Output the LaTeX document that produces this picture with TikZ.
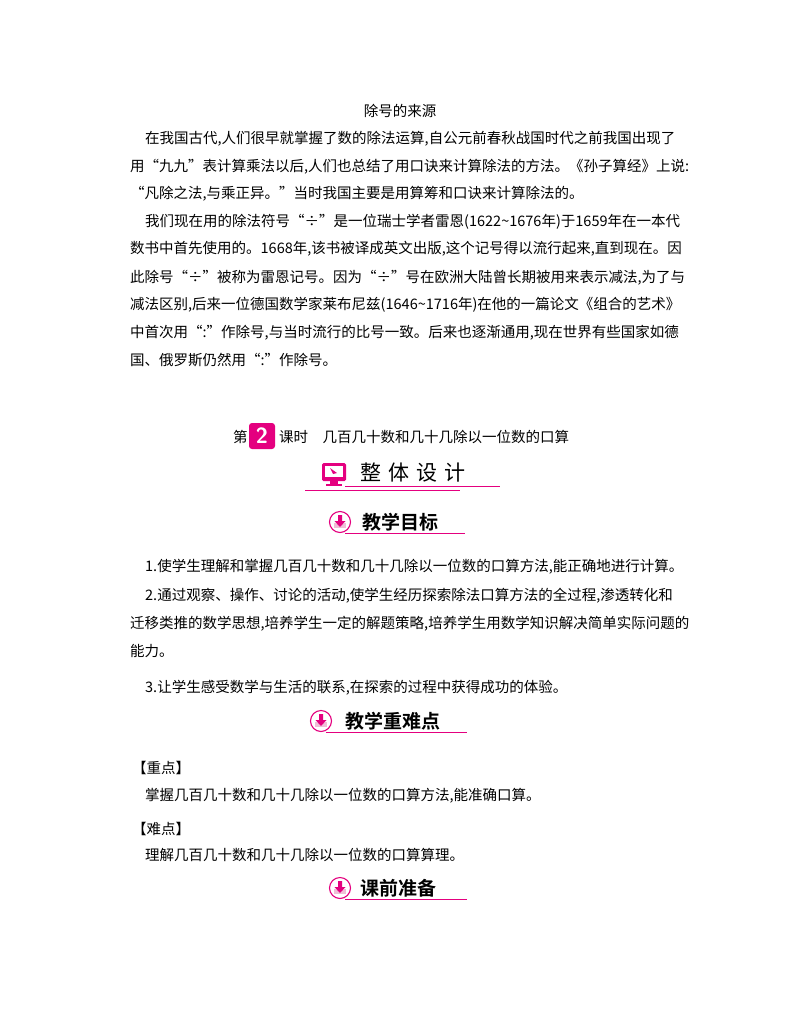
\documentclass[tikz,border=0pt]{standalone}
\usepackage{fontspec}
\setmainfont{Noto Sans CJK SC}
\newfontfamily\cjkb[BoldFont={Noto Sans CJK SC Bold}]{Noto Sans CJK SC}
\definecolor{pk}{RGB}{228,0,127}
\definecolor{pkl}{RGB}{240,190,215}
\begin{document}
\begin{tikzpicture}[x=1pt,y=-1pt,
  ln/.style={anchor=west,inner sep=0pt,font=\fontsize{14.5}{16}\selectfont},
  hd/.style={anchor=west,inner sep=0pt,font=\fontsize{19}{22}\selectfont},
  icn/.style={circle,draw=pk,line width=1.1pt,minimum size=21pt,inner sep=0pt}]
\useasboundingbox (0,0) rectangle (800,1028);
\fill[white] (0,0) rectangle (800,1028);
\node[inner sep=0pt,font=\fontsize{14.5}{16}\selectfont] (t) at (400,111) {除号的来源};
\node[ln] (a1) at (145,139) {在我国古代,人们很早就掌握了数的除法运算,自公元前春秋战国时代之前我国出现了};
\node[ln] (a2) at (130,167) {用“九九”表计算乘法以后,人们也总结了用口诀来计算除法的方法。《孙子算经》上说:};
\node[ln] (a3) at (130,194) {“凡除之法,与乘正异。”当时我国主要是用算筹和口诀来计算除法的。};
\node[ln] (b1) at (145,222) {我们现在用的除法符号“÷”是一位瑞士学者雷恩(1622\char"7E 1676年)于1659年在一本代};
\node[ln] (b2) at (130,249) {数书中首先使用的。1668年,该书被译成英文出版,这个记号得以流行起来,直到现在。因};
\node[ln] (b3) at (130,278) {此除号“÷”被称为雷恩记号。因为“÷”号在欧洲大陆曾长期被用来表示减法,为了与};
\node[ln] (b4) at (130,305) {减法区别,后来一位德国数学家莱布尼兹(1646\char"7E 1716年)在他的一篇论文《组合的艺术》};
\node[ln] (b5) at (130,333) {中首次用“:”作除号,与当时流行的比号一致。后来也逐渐通用,现在世界有些国家如德};
\node[ln] (b6) at (130,360) {国、俄罗斯仍然用“:”作除号。};
% lesson title
\node[ln] (k1) at (233,437) {第};
\node[fill=pk,rounded corners=3pt,minimum width=26pt,minimum height=26pt,inner sep=0pt,text=white,font=\sffamily\bfseries\fontsize{22}{22}\selectfont] (k2) at (262,436) {2};
\node[ln] (k3) at (279,437) {课时\quad 几百几十数和几十几除以一位数的口算};
% 整体设计
\draw[pk,line width=0.8pt] (305,490) -- (460,490);
\draw[pk,line width=0.8pt] (345,486) -- (500,486);
\fill[pk,rounded corners=1.5pt] (322,463) rectangle (346,481);
\fill[white] (325,466) rectangle (343,477);
\fill[pk] (330,468) -- (337,473) -- (333,474) -- cycle;
\fill[pk] (330,481) rectangle (338,484);
\fill[pk] (326,484) rectangle (342,486);
\node[hd,font=\fontsize{21}{22}\selectfont] (zt) at (360,473) {整\,\,体\,\,设\,\,计};
% headers
\foreach \n/\x/\y/\tx/\txt/\ul in {g1/340/522/362/教学目标/465, g2/321/721/345/教学重难点/467, g3/340/888/360/课前准备/467}{
  \draw[pk,line width=0.8pt] (\x+5,\y+11) -- (\ul,\y+11);
  \node[icn] (\n) at (\x,\y) {};
  \fill[pkl] (\x-6,\y+1) rectangle (\x+6,\y+6);
  \fill[pk] (\x-2,\y-7) rectangle (\x+2,\y-1) (\x-5.5,\y-1) -- (\x+5.5,\y-1) -- (\x,\y+5) -- cycle;
  \node[hd] (\n t) at (\tx,\y) {\cjkb\bfseries\txt};
}
\node[ln] (c1) at (145,567) {1.使学生理解和掌握几百几十数和几十几除以一位数的口算方法,能正确地进行计算。};
\node[ln] (c2) at (145,596) {2.通过观察、操作、讨论的活动,使学生经历探索除法口算方法的全过程,渗透转化和};
\node[ln] (c3) at (130,624) {迁移类推的数学思想,培养学生一定的解题策略,培养学生用数学知识解决简单实际问题的};
\node[ln] (c4) at (130,651) {能力。};
\node[ln] (c5) at (145,688) {3.让学生感受数学与生活的联系,在探索的过程中获得成功的体验。};
\node[ln] (d1) at (132,768) {【重点】};
\node[ln] (d2) at (145,796) {掌握几百几十数和几十几除以一位数的口算方法,能准确口算。};
\node[ln] (d3) at (132,829) {【难点】};
\node[ln] (d4) at (145,855) {理解几百几十数和几十几除以一位数的口算算理。};
\end{tikzpicture}
\end{document}
